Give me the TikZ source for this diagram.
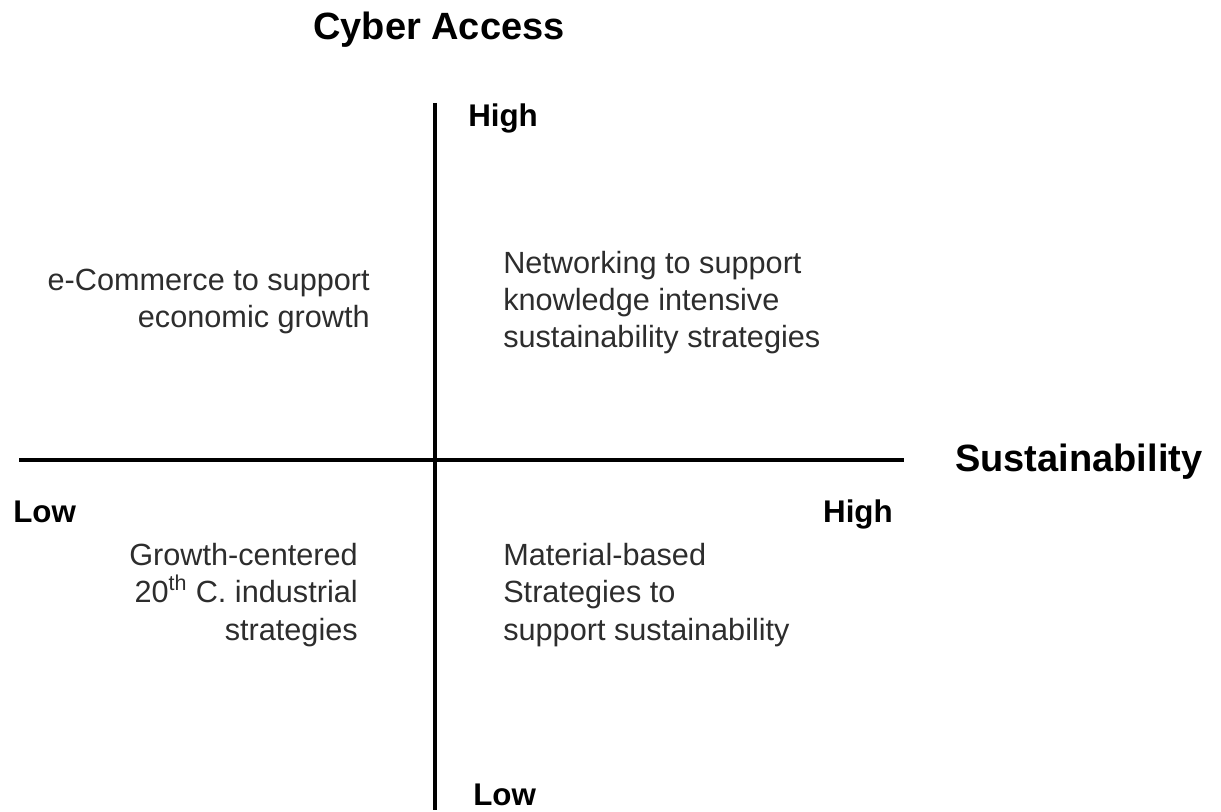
\documentclass[tikz,border=0pt]{standalone}
\usepackage{fontspec}
\setmainfont{Liberation Sans}
\definecolor{txt}{RGB}{45,45,45}
\begin{document}
\begin{tikzpicture}[x=0.75pt,y=-0.75pt,
  axis/.style={line width=2.3pt,black},
  title/.style={font=\fontsize{28.5}{34}\selectfont\bfseries,inner sep=0pt},
  tick/.style={font=\fontsize{23.5}{28}\selectfont\bfseries,inner sep=0pt},
  body/.style={font=\fontsize{23}{27.9}\selectfont,text=txt,inner sep=0pt}]
\useasboundingbox (0,0) rectangle (1221,812);
% axes
\coordinate (vtop) at (435,103);
\coordinate (vbot) at (435,810);
\coordinate (hl) at (19,460);
\coordinate (hr) at (904,460);
\draw[axis] (vtop) -- (vbot);
\draw[axis] (hl) -- (hr);
% axis titles
\node[title,anchor=base] (cyber) at (439,40) {Cyber Access};
\node[title,anchor=base west] (sust) at (955,472) {Sustainability};
% axis ends
\node[tick,anchor=base west] (vhigh) at (468,127) {High};
\node[tick,anchor=base west] (vlow) at (473,805) {Low};
\node[tick,anchor=base west] (hlow) at (13,523) {Low};
\node[tick,anchor=base east] (hhigh) at (893,523) {High};
% quadrants
\node[body,anchor=base east,align=right] (q2) at (370,328)
  {e-Commerce to support\\economic growth};
\node[body,anchor=base west,align=left] (q1) at (503,348)
  {Networking to support\\knowledge intensive\\sustainability strategies};
\node[body,anchor=base east,align=right] (q3) at (358,640)
  {Growth-centered\\20\textsuperscript{th} C. industrial\\strategies};
\node[body,anchor=base west,align=left] (q4) at (503,640)
  {Material-based\\Strategies to\\support sustainability};
\end{tikzpicture}
\end{document}
